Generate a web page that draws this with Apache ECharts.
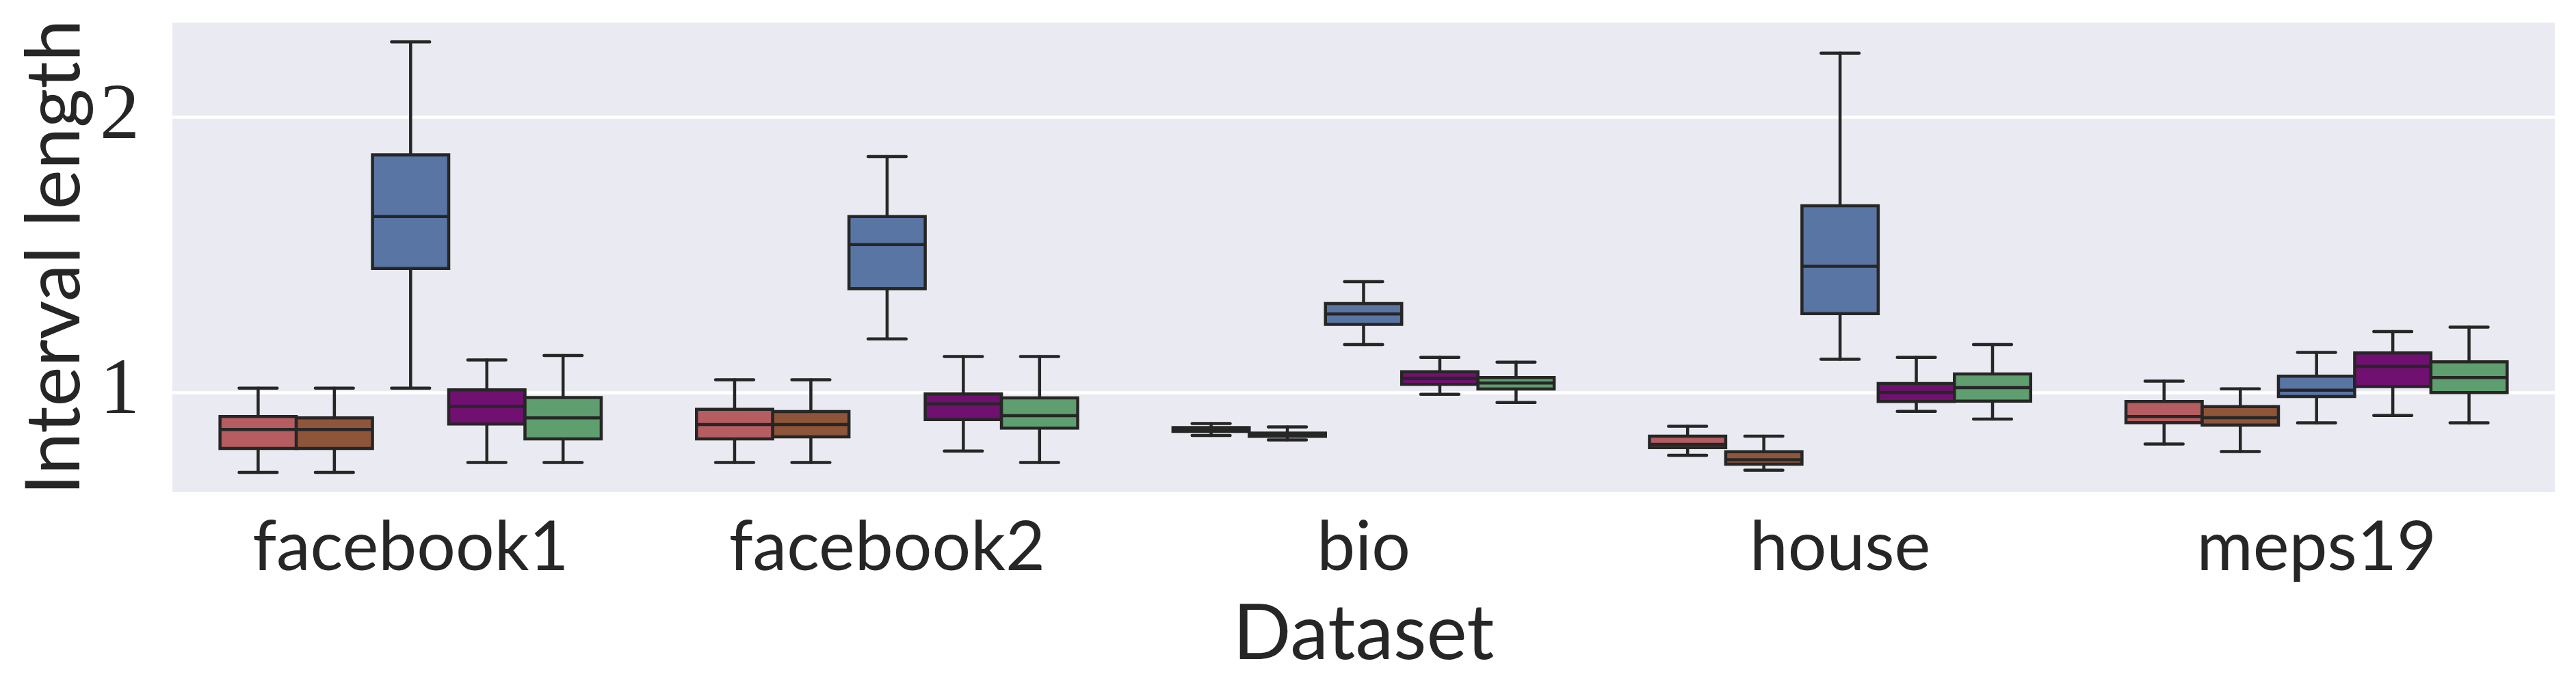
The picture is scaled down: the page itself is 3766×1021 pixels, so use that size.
<!DOCTYPE html>
<html>
<head>
<meta charset="utf-8">
<script src="https://cdn.jsdelivr.net/npm/echarts@6/dist/echarts.min.js"></script>
<style>
html,body{margin:0;padding:0;background:#fff;}
#chart{width:3766px;height:1021px;}
</style>
</head>
<body>
<div id="chart"></div>
<script>
// Categories (datasets)
const categories = ['facebook1', 'facebook2', 'bio', 'house', 'meps19'];
// Y tick labels
const yTicks = [1, 2];
// Each entry: [lower whisker, Q1, median, Q3, upper whisker], one per dataset
const seriesRed = [
  [0.709, 0.796, 0.865, 0.912, 1.015],
  [0.745, 0.831, 0.883, 0.938, 1.046],
  [0.843, 0.858, 0.865, 0.872, 0.887],
  [0.771, 0.799, 0.811, 0.841, 0.877],
  [0.812, 0.890, 0.912, 0.967, 1.041]
];
const seriesBrown = [
  [0.709, 0.796, 0.865, 0.907, 1.015],
  [0.745, 0.838, 0.883, 0.930, 1.046],
  [0.827, 0.840, 0.846, 0.852, 0.874],
  [0.717, 0.739, 0.755, 0.784, 0.841],
  [0.785, 0.881, 0.908, 0.948, 1.013]
];
const seriesBlue = [
  [1.015, 1.450, 1.639, 1.863, 2.274],
  [1.194, 1.377, 1.537, 1.639, 1.857],
  [1.174, 1.247, 1.285, 1.323, 1.402],
  [1.120, 1.286, 1.458, 1.678, 2.233],
  [0.889, 0.985, 1.008, 1.059, 1.145]
];
const seriesPurple = [
  [0.745, 0.885, 0.949, 1.009, 1.118],
  [0.787, 0.901, 0.958, 0.994, 1.130],
  [0.993, 1.029, 1.051, 1.075, 1.127],
  [0.931, 0.967, 1.000, 1.032, 1.127],
  [0.916, 1.021, 1.094, 1.143, 1.221]
];
const seriesGreen = [
  [0.745, 0.831, 0.907, 0.981, 1.134],
  [0.745, 0.870, 0.915, 0.980, 1.130],
  [0.963, 1.012, 1.034, 1.054, 1.110],
  [0.903, 0.968, 1.017, 1.067, 1.174],
  [0.889, 0.999, 1.054, 1.111, 1.237]
];

const seriesList = [
  { name: 'Method 1', values: seriesRed, color: '#b55d60' },
  { name: 'Method 2', values: seriesBrown, color: '#8f5539' },
  { name: 'Method 3', values: seriesBlue, color: '#5975a4' },
  { name: 'Method 4', values: seriesPurple, color: '#701070' },
  { name: 'Method 5', values: seriesGreen, color: '#5f9e6e' }
];

const EDGE = '#262626';
const LW = 4.5;
const nHue = seriesList.length;

function makeRender(k, color) {
  return function (params, api) {
    const ci = api.value(0);
    const band = api.size([1, 0])[0];
    const w = band * 0.8 / nHue;
    const cx = api.coord([ci, 1])[0] + (k - (nHue - 1) / 2) * w;
    const yLo = api.coord([ci, api.value(1)])[1];
    const yQ1 = api.coord([ci, api.value(2)])[1];
    const yMed = api.coord([ci, api.value(3)])[1];
    const yQ3 = api.coord([ci, api.value(4)])[1];
    const yHi = api.coord([ci, api.value(5)])[1];
    const half = w / 2;
    const capHalf = w / 4;
    const lineStyle = { stroke: EDGE, lineWidth: LW, lineCap: 'round' };
    return {
      type: 'group',
      children: [
        { type: 'line', shape: { x1: cx, y1: yQ3, x2: cx, y2: yHi }, style: lineStyle },
        { type: 'line', shape: { x1: cx, y1: yQ1, x2: cx, y2: yLo }, style: lineStyle },
        { type: 'line', shape: { x1: cx - capHalf, y1: yHi, x2: cx + capHalf, y2: yHi }, style: lineStyle },
        { type: 'line', shape: { x1: cx - capHalf, y1: yLo, x2: cx + capHalf, y2: yLo }, style: lineStyle },
        { type: 'rect', shape: { x: cx - half, y: yQ3, width: w, height: yQ1 - yQ3 },
          style: { fill: color, stroke: EDGE, lineWidth: LW } },
        { type: 'line', shape: { x1: cx - half, y1: yMed, x2: cx + half, y2: yMed },
          style: { stroke: EDGE, lineWidth: LW } }
      ]
    };
  };
}

const sansFont = 'Lato, "Open Sans", sans-serif';
const serifFont = '"Liberation Serif", "DejaVu Serif", serif';

const option = {
  animation: false,
  backgroundColor: '#ffffff',
  grid: {
    left: 252, right: 31, top: 33, bottom: 301,
    show: true, backgroundColor: '#eaeaf2', borderWidth: 0
  },
  xAxis: {
    type: 'category',
    data: categories,
    name: 'Dataset',
    nameLocation: 'middle',
    nameGap: 152,
    nameTextStyle: { fontFamily: sansFont, fontSize: 112, color: '#262626' },
    axisLine: { show: false },
    axisTick: { show: false },
    splitLine: { show: false },
    axisLabel: { fontFamily: sansFont, fontSize: 100, color: '#262626', margin: 32 }
  },
  yAxis: {
    type: 'value',
    min: 0.637,
    max: 2.344,
    name: 'Interval length',
    nameLocation: 'middle',
    nameGap: 112,
    nameRotate: 90,
    nameTextStyle: { fontFamily: sansFont, fontSize: 110, color: '#262626' },
    axisLine: { show: false },
    axisTick: { show: false, customValues: yTicks },
    axisLabel: {
      customValues: yTicks,
      fontFamily: serifFont, fontSize: 116, color: '#262626', margin: 48,
      formatter: function (v) { return String(Math.round(v)); }
    },
    splitLine: { show: true, lineStyle: { color: '#ffffff', width: 4.5 } }
  },
  series: seriesList.map(function (s, k) {
    return {
      type: 'custom',
      name: s.name,
      renderItem: makeRender(k, s.color),
      encode: { x: 0, y: [1, 2, 3, 4, 5] },
      data: s.values.map(function (v, i) { return [i].concat(v); }),
      z: 2
    };
  })
};

const chart = echarts.init(document.getElementById('chart'), null, { renderer: 'canvas' });
chart.setOption(option);
</script>
</body>
</html>
